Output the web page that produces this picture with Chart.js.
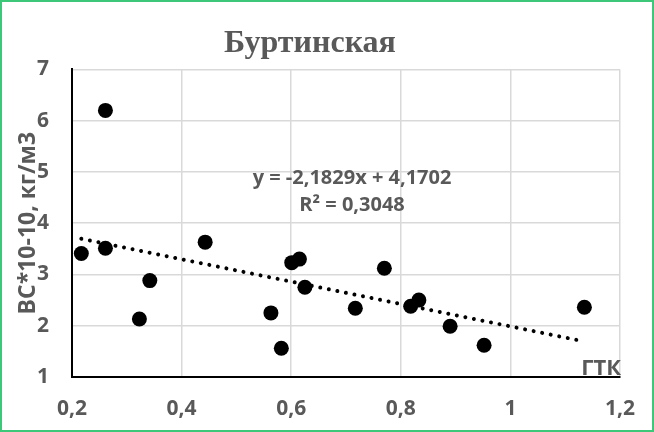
<!DOCTYPE html>
<html>
<head>
<meta charset="utf-8">
<script src="https://cdn.jsdelivr.net/npm/chart.js@4.4.1/dist/chart.umd.min.js"></script>
<style>
    body { margin: 0; background: #fff; }
    #wrap { position: relative; width: 654px; height: 432px; }
    #frame { position: absolute; left: 0; top: 0; width: 654px; height: 432px; box-sizing: border-box; border: 2px solid #3cc878; pointer-events: none; }
</style>
</head>
<body>
<div id="wrap">
    <canvas id="myChart" width="654" height="432"></canvas>
    <div id="frame"></div>
</div>
<script>
// Data
const gtk = [0.217, 0.261, 0.261, 0.323, 0.342, 0.443, 0.563, 0.582, 0.601, 0.615, 0.625, 0.717, 0.770, 0.818, 0.833, 0.890, 0.952, 1.135];
const vs = [3.41, 6.20, 3.51, 2.13, 2.88, 3.63, 2.25, 1.56, 3.23, 3.30, 2.75, 2.34, 3.12, 2.38, 2.50, 1.99, 1.62, 2.36];

// Linear trend from the picture's equation
const slope = -2.1829;
const intercept = 4.1702;
const r2Label = 'R² = 0,3048';
const eqLabel = 'y = -2,1829x + 4,1702';

const xTicks = [0.2, 0.4, 0.6, 0.8, 1, 1.2];
const yTicks = [1, 2, 3, 4, 5, 6, 7];

const gray = '#595959';
const fmt = v => String(Math.round(v * 10) / 10).replace('.', ',');

const points = gtk.map((x, i) => ({ x: x, y: vs[i] }));
const xMin = Math.min(...gtk), xMax = Math.max(...gtk);
const trend = [xMin, xMax].map(x => ({ x: x, y: slope * x + intercept }));

// Equation text and axis label drawn on top
const labelsPlugin = {
    id: 'labels',
    afterDatasetsDraw(chart) {
        const { ctx, chartArea, scales } = chart;
        ctx.save();
        ctx.fillStyle = gray;
        ctx.font = 'bold 20px "Open Sans"';
        ctx.textAlign = 'center';
        ctx.textBaseline = 'middle';
        const ex = scales.x.getPixelForValue(0.711);
        ctx.fillText(eqLabel, ex, scales.y.getPixelForValue(4.88));
        ctx.fillText(r2Label, ex, scales.y.getPixelForValue(4.34));

        ctx.font = 'bold 22px "Open Sans"';
        ctx.textAlign = 'right';
        ctx.textBaseline = 'alphabetic';
        ctx.fillText('ГТК', chartArea.right + 1, chartArea.bottom - 2);
        ctx.restore();
    }
};

const ctx = document.getElementById('myChart').getContext('2d');
new Chart(ctx, {
    type: 'scatter',
    data: {
        datasets: [
            {
                label: 'trend',
                data: trend,
                showLine: true,
                pointRadius: 0,
                borderColor: '#000',
                borderWidth: 4,
                borderDash: [0.01, 8.7],
                borderCapStyle: 'round',
                order: 0
            },
            {
                label: 'Буртинская',
                data: points,
                pointRadius: 7.5,
                pointBackgroundColor: '#000',
                pointBorderWidth: 0,
                order: 1
            }
        ]
    },
    options: {
        responsive: false,
        animation: false,
        layout: { padding: { left: 0, right: 34, top: 0, bottom: 0 } },
        plugins: {
            legend: { display: false },
            tooltip: { enabled: false },
            title: {
                display: true,
                text: 'Буртинская',
                color: gray,
                font: { family: '"Liberation Serif"', size: 32, weight: 'bold' },
                padding: { top: 25, bottom: 6 }
            }
        },
        scales: {
            x: {
                type: 'linear',
                min: 0.2,
                max: 1.2,
                afterBuildTicks: s => { s.ticks = xTicks.map(v => ({ value: v })); },
                afterFit: s => { s.height = 55; },
                grid: { color: '#d9d9d9', lineWidth: 1.5, drawTicks: false },
                border: { color: '#000', width: 2 },
                ticks: { color: gray, padding: 19, font: { family: '"Open Sans"', size: 21, weight: 'bold' }, callback: fmt }
            },
            y: {
                min: 1,
                max: 7,
                afterBuildTicks: s => { s.ticks = yTicks.map(v => ({ value: v })); },
                afterFit: s => { s.width = 72; },
                grid: { color: '#d9d9d9', lineWidth: 1.5, drawTicks: false },
                border: { color: '#000', width: 2 },
                ticks: { color: gray, padding: 23, font: { family: '"Open Sans"', size: 21, weight: 'bold' }, callback: fmt },
                title: {
                    display: true,
                    text: 'ВС*10-10, кг/м3',
                    color: gray,
                    font: { family: '"Open Sans"', size: 23, weight: 'bold' },
                    padding: { top: 15, bottom: 0 }
                }
            }
        }
    },
    plugins: [labelsPlugin]
});
</script>
</body>
</html>
